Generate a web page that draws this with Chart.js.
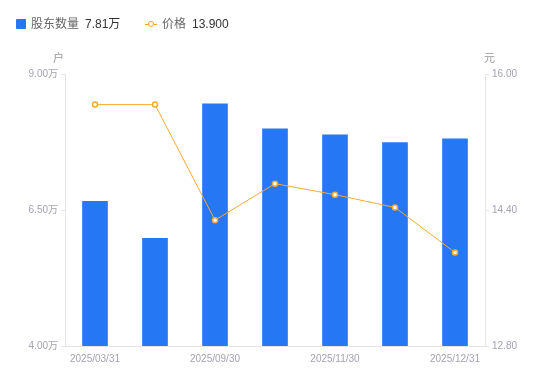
<!DOCTYPE html>
<html><head><meta charset="utf-8">
<script src="https://cdn.jsdelivr.net/npm/chart.js@4"></script>
<style>
html,body{margin:0;padding:0;background:#fff;}
#wrap{position:relative;width:550px;height:381px;font-family:"Liberation Sans","Noto Sans CJK SC",sans-serif;}
canvas{position:absolute;left:0;top:0;}
.lg{position:absolute;top:16px;font-size:12px;line-height:16px;white-space:nowrap;}
.nm{color:#666;}
.vl{color:#333;margin-left:6px;}
.unit{position:absolute;top:49px;font-size:11px;color:#999;}
</style></head>
<body><div id="wrap">
<canvas id="c" width="550" height="381"></canvas>
<div class="lg" style="left:16px;"><span style="display:inline-block;width:10px;height:10px;background:#2677f4;border-radius:1px;vertical-align:-1px;margin-right:5px;"></span><span class="nm">股东数量</span><span class="vl">7.81万</span></div>
<div class="lg" style="left:145px;"><span style="display:inline-block;position:relative;width:12px;height:10px;vertical-align:-1px;margin-right:5px;"><span style="position:absolute;left:0;top:4.5px;width:12px;height:1px;background:#f5a623;"></span><span style="position:absolute;left:3px;top:2px;width:4px;height:4px;border:1.5px solid #f5a623;border-radius:50%;background:#fff;"></span></span><span class="nm">价格</span><span class="vl">13.900</span></div>
<div class="unit" style="left:53px;">户</div>
<div class="unit" style="left:484px;">元</div>
</div>
<script>
const categories = ["2025/03/31","2025/06/30","2025/09/30","2025/10/31","2025/11/30","2025/12/10","2025/12/31"];
const holders = [6.66, 5.98, 8.45, 7.99, 7.88, 7.74, 7.81];
const prices = [15.64, 15.64, 14.28, 14.71, 14.58, 14.43, 13.90];
const leftTicks = {min: 4, max: 9, step: 2.5};
const rightTicks = {min: 12.8, max: 16, step: 1.6};

const tickFont = {family: "Liberation Sans, Noto Sans CJK SC, sans-serif", size: 10};
const tickColor = '#a3a3b3';
const axisColor = '#e6e6e6';

new Chart(document.getElementById('c'), {
  data: {
    labels: categories,
    datasets: [
      {type: 'line', label: '价格', data: prices, yAxisID: 'y1', borderColor: '#f6ac30', borderWidth: 1,
       pointRadius: 2.5, pointBorderWidth: 1.5, pointBackgroundColor: '#fff', pointBorderColor: '#f6ac30', tension: 0, order: 0},
      {type: 'bar', label: '股东数量', data: holders, yAxisID: 'y', backgroundColor: '#2677f4',
       barThickness: 25, order: 1}
    ]
  },
  options: {
    responsive: false, animation: false,
    layout: {padding: {top: 74, bottom: 17, left: 0, right: 0}},
    plugins: {legend: {display: false}, tooltip: {enabled: false}},
    scales: {
      x: {
        grid: {display: false}, border: {display: true, color: axisColor},
        ticks: {font: tickFont, color: tickColor, autoSkip: false, maxRotation: 0, padding: -1,
          callback: function(v, i){ return i % 2 === 0 ? categories[i] : ''; }}
      },
      y: {
        position: 'left', min: leftTicks.min, max: leftTicks.max,
        afterFit: s => { s.width = 65; },
        grid: {drawOnChartArea: false, drawTicks: true, tickLength: 4, color: axisColor},
        border: {display: true, color: axisColor},
        ticks: {stepSize: leftTicks.step, font: tickFont, color: tickColor, padding: 3,
          callback: v => v.toFixed(2) + '万'}
      },
      y1: {
        position: 'right', min: rightTicks.min, max: rightTicks.max,
        afterFit: s => { s.width = 65; },
        grid: {drawOnChartArea: false, drawTicks: true, tickLength: 4, color: axisColor},
        border: {display: true, color: axisColor},
        ticks: {stepSize: rightTicks.step, font: tickFont, color: tickColor, padding: 3,
          callback: v => v.toFixed(2)}
      }
    }
  }
});
</script>
</body></html>
